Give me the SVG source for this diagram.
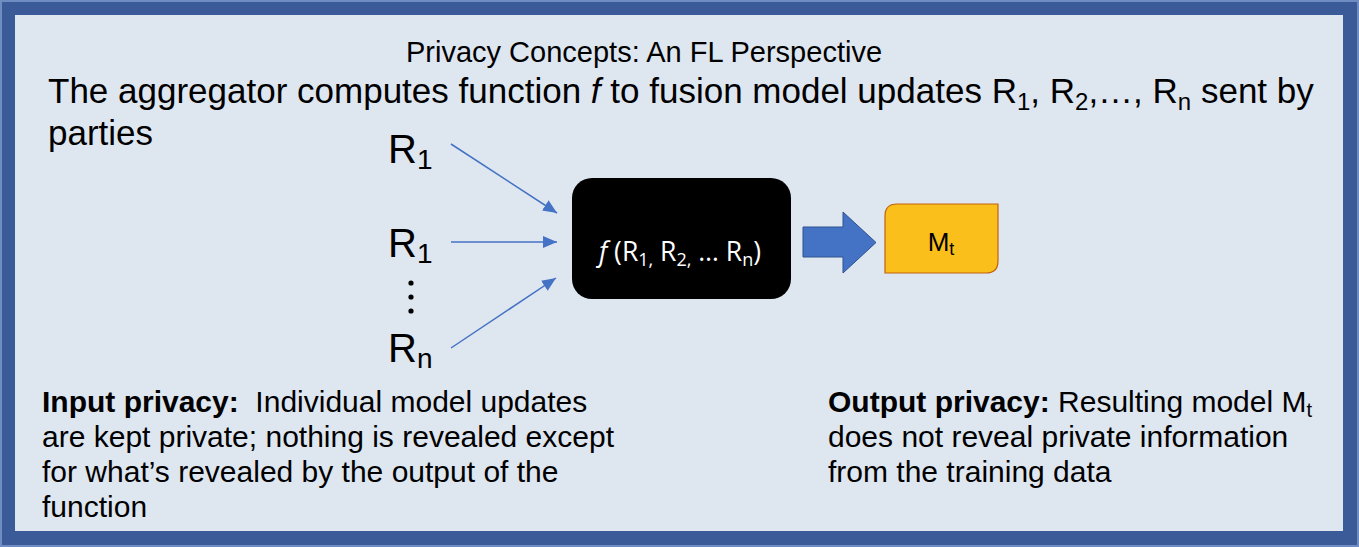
<svg xmlns="http://www.w3.org/2000/svg" width="1359" height="547" viewBox="0 0 1359 547">
<defs>
<style>
.t{font-family:"Liberation Sans",Arial,sans-serif;fill:#000}
.r{font-family:"Liberation Sans",Arial,sans-serif;font-size:40px;fill:#000}
.b{font-weight:bold}
.thin{stroke:#4472C4;stroke-width:1.5;fill:none}
</style>
<marker id="ah" viewBox="0 0 14 12" refX="14" refY="6" markerWidth="14" markerHeight="12" markerUnits="userSpaceOnUse" orient="auto">
<path d="M0,0 L14,6 L0,12 Z" fill="#4472C4"/>
</marker>
</defs>
<rect x="0" y="0" width="1359" height="547" fill="#6F8DC2"/>
<rect x="2" y="2" width="1355" height="543" fill="#3A5A98"/>
<rect x="15" y="15" width="1328" height="516" fill="#DEE6F0"/>

<g id="title">
<text class="t" x="644" y="62" font-size="29" text-anchor="middle">Privacy Concepts: An FL Perspective</text>
<text class="t" x="48" y="103" font-size="35">The aggregator computes function <tspan font-style="italic">f</tspan> to fusion model updates R<tspan font-size="24" dy="7">1</tspan><tspan dy="-7">, R</tspan><tspan font-size="24" dy="7">2</tspan><tspan dy="-7">,…, R</tspan><tspan font-size="24" dy="7">n</tspan><tspan dy="-7"> sent by</tspan></text>
<text class="t" x="48" y="145" font-size="35">parties</text>
</g>

<g id="r1a"><text class="r" x="388" y="163">R<tspan font-size="28" dy="6">1</tspan></text></g>
<g id="r1b"><text class="r" x="388" y="257">R<tspan font-size="28" dy="6">1</tspan></text></g>
<g id="dots"><circle cx="411" cy="283" r="2.6" fill="#000"/><circle cx="411" cy="297" r="2.6" fill="#000"/><circle cx="411" cy="311" r="2.6" fill="#000"/></g>
<g id="rn"><text class="r" x="388" y="362">R<tspan font-size="28" dy="6">n</tspan></text></g>

<g id="connectors">
<line class="thin" x1="451" y1="144" x2="557" y2="213" marker-end="url(#ah)"/>
<line class="thin" x1="451" y1="242" x2="557" y2="242" marker-end="url(#ah)"/>
<line class="thin" x1="451" y1="348" x2="556" y2="278" marker-end="url(#ah)"/>
<path d="M803,227 H843 V212 L876,242.5 L843,273 V257 H803 Z" fill="#4472C4" stroke="#2F528F" stroke-width="1"/>
</g>

<g id="func">
<rect x="572" y="178" width="219" height="121" rx="20" ry="20" fill="#000"/>
<text x="680" y="261" font-family="'Open Sans','Noto Sans',sans-serif" font-size="26.5" fill="#fff" text-anchor="middle"><tspan font-style="italic">f</tspan> (R<tspan font-size="18" dy="5">1,</tspan><tspan dy="-5"> R</tspan><tspan font-size="18" dy="5">2,</tspan><tspan dy="-5"> … R</tspan><tspan font-size="18" dy="5">n</tspan><tspan dy="-5">)</tspan></text>
</g>

<g id="mt">
<path d="M897,204 H998 V261 Q998,273 986,273 H885 V216 Q885,204 897,204 Z" fill="#FBBF1B" stroke="#C0620E" stroke-width="1.2"/>
<text class="t" x="941" y="251" font-size="26" text-anchor="middle">M<tspan font-size="18" dy="4">t</tspan></text>
</g>

<g id="input-privacy">
<text class="t" font-size="30"><tspan x="42" y="412"><tspan class="b">Input privacy:</tspan>&#160; Individual model updates</tspan><tspan x="42" y="447">are kept private; nothing is revealed except</tspan><tspan x="42" y="482">for what’s revealed by the output of the</tspan><tspan x="42" y="517">function</tspan></text>
</g>

<g id="output-privacy">
<text class="t" font-size="30"><tspan x="828" y="412"><tspan class="b">Output privacy:</tspan> Resulting model M</tspan><tspan font-size="20" dy="5">t</tspan><tspan x="828" y="447">does not reveal private information</tspan><tspan x="828" y="482">from the training data</tspan></text>
</g>
</svg>
